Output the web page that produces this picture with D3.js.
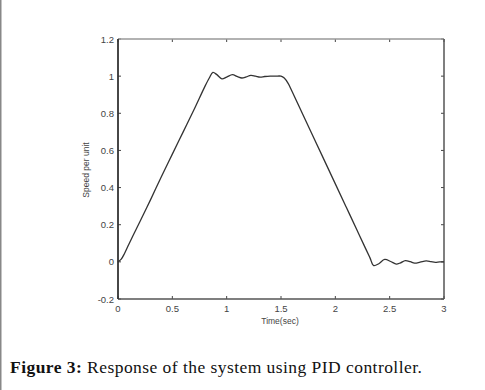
<!DOCTYPE html>
<html>
<head>
<meta charset="utf-8">
<script src="https://cdn.jsdelivr.net/npm/d3@7"></script>
<style>
  body { margin: 0; background: #fff; }
  svg { display: block; }
</style>
</head>
<body>
<div id="chart"></div>
<script>
// PID speed response
const timeSec = [0, 0.03, 0.06, 0.1, 0.15, 0.2, 0.3, 0.4, 0.5, 0.6, 0.7, 0.8, 0.84, 0.873, 0.91, 0.956,
    1.0, 1.053, 1.1, 1.14, 1.18, 1.222, 1.265, 1.307, 1.35, 1.4, 1.45, 1.5, 1.53, 1.567, 1.6, 1.7, 1.8,
    1.9, 2.0, 2.1, 2.2, 2.28, 2.32, 2.353, 2.4, 2.454, 2.51, 2.561, 2.6, 2.644, 2.69, 2.729, 2.78, 2.836,
    2.88, 2.92, 2.96, 3.0];
const speed = [0, 0.015, 0.045, 0.095, 0.155, 0.215, 0.335, 0.46, 0.58, 0.7, 0.82, 0.945, 0.99, 1.02, 1.008, 0.985,
    0.995, 1.008, 0.997, 0.99, 0.996, 1.004, 1.0, 0.995, 0.998, 1.0, 1.0, 1.0, 0.99, 0.96, 0.92, 0.795, 0.67,
    0.545, 0.42, 0.295, 0.17, 0.07, 0.02, -0.02, -0.01, 0.013, 0.002, -0.012, -0.005, 0.007, 0.001, -0.007, -0.002, 0.005,
    0.001, -0.003, 0.0, 0.0];
const xTicks = [0, 0.5, 1, 1.5, 2, 2.5, 3];
const xTickLabels = ["0", "0.5", "1", "1.5", "2", "2.5", "3"];
const yTicks = [-0.2, 0, 0.2, 0.4, 0.6, 0.8, 1, 1.2];
const yTickLabels = ["-0.2", "0", "0.2", "0.4", "0.6", "0.8", "1", "1.2"];

function drawChart() {
    const win_width = 485, win_height = 390;
    const margin = {top: 39, left: 118, right: 41, bottom: 91};
    const width = win_width - margin.left - margin.right;
    const height = win_height - margin.top - margin.bottom;

    let svg = d3.select("#chart")
        .append("svg")
        .attr("width", win_width)
        .attr("height", win_height);

    // grey page edge on the left
    svg.append("line")
        .attr("x1", 0.75).attr("x2", 0.75)
        .attr("y1", 0).attr("y2", win_height)
        .style("stroke", "#888")
        .style("stroke-width", 1.5);

    let g = svg.append("g")
        .attr("transform", "translate(" + margin.left + "," + margin.top + ")");

    let x = d3.scaleLinear().domain([0, 3]).range([0, width]);
    let y = d3.scaleLinear().domain([-0.2, 1.2]).range([height, 0]);

    // inward ticks on all four sides
    const tickLen = 3;
    g.selectAll(".xt-b").data(xTicks).enter().append("line")
        .attr("x1", d => x(d)).attr("x2", d => x(d))
        .attr("y1", height).attr("y2", height - tickLen)
        .style("stroke", "#444");
    g.selectAll(".xt-t").data(xTicks).enter().append("line")
        .attr("x1", d => x(d)).attr("x2", d => x(d))
        .attr("y1", 0).attr("y2", tickLen)
        .style("stroke", "#444");
    g.selectAll(".yt-l").data(yTicks).enter().append("line")
        .attr("x1", 0).attr("x2", tickLen)
        .attr("y1", d => y(d)).attr("y2", d => y(d))
        .style("stroke", "#444");
    g.selectAll(".yt-r").data(yTicks).enter().append("line")
        .attr("x1", width).attr("x2", width - tickLen)
        .attr("y1", d => y(d)).attr("y2", d => y(d))
        .style("stroke", "#444");

    // frame
    g.append("line").attr("x1", 0).attr("x2", width).attr("y1", 0).attr("y2", 0)
        .style("stroke", "#999").style("stroke-width", 1.5);
    g.append("line").attr("x1", width).attr("x2", width).attr("y1", 0).attr("y2", height)
        .style("stroke", "#555").style("stroke-width", 1.5);
    g.append("line").attr("x1", 0).attr("x2", width).attr("y1", height).attr("y2", height)
        .style("stroke", "#555").style("stroke-width", 1.5);
    g.append("line").attr("x1", 0).attr("x2", 0).attr("y1", 0).attr("y2", height)
        .style("stroke", "#333").style("stroke-width", 1.8);

    // tick labels
    g.selectAll(".xl").data(xTicks).enter().append("text")
        .attr("x", d => x(d))
        .attr("y", height + 13)
        .attr("text-anchor", "middle")
        .style("font-family", "Liberation Sans, Arial, sans-serif")
        .style("font-size", "9.5px")
        .style("fill", "#444")
        .text((d, i) => xTickLabels[i]);
    g.selectAll(".yl").data(yTicks).enter().append("text")
        .attr("x", -4)
        .attr("y", d => y(d) + 3.5)
        .attr("text-anchor", "end")
        .style("font-family", "Liberation Sans, Arial, sans-serif")
        .style("font-size", "9.5px")
        .style("fill", "#444")
        .text((d, i) => yTickLabels[i]);

    // axis titles
    g.append("text")
        .attr("x", x(1.5) - 1)
        .attr("y", height + 25)
        .attr("text-anchor", "middle")
        .style("font-family", "Liberation Sans, Arial, sans-serif")
        .style("font-size", "8.5px")
        .style("fill", "#444")
        .text("Time(sec)");
    g.append("text")
        .attr("transform", "translate(-29," + (y(0.5) + 1) + ") rotate(-90)")
        .attr("text-anchor", "middle")
        .style("font-family", "Liberation Sans, Arial, sans-serif")
        .style("font-size", "8.5px")
        .style("fill", "#444")
        .text("Speed per unit");

    // response curve
    let line = d3.line()
        .x((d, i) => x(timeSec[i]))
        .y(d => y(d))
        .curve(d3.curveCatmullRom);
    g.append("path")
        .datum(speed)
        .attr("d", line)
        .attr("fill", "none")
        .style("stroke", "#333")
        .style("stroke-width", 1.3);

    // caption
    let cap = svg.append("text")
        .attr("x", 10)
        .attr("y", 373)
        .style("font-family", "Liberation Serif, Times New Roman, serif")
        .style("font-size", "17.5px")
        .style("letter-spacing", "0.45px")
        .style("fill", "#111");
    cap.append("tspan").style("font-weight", "bold").text("Figure 3:");
    cap.append("tspan").text(" Response of the system using PID controller.");
}
drawChart();
</script>
</body>
</html>
